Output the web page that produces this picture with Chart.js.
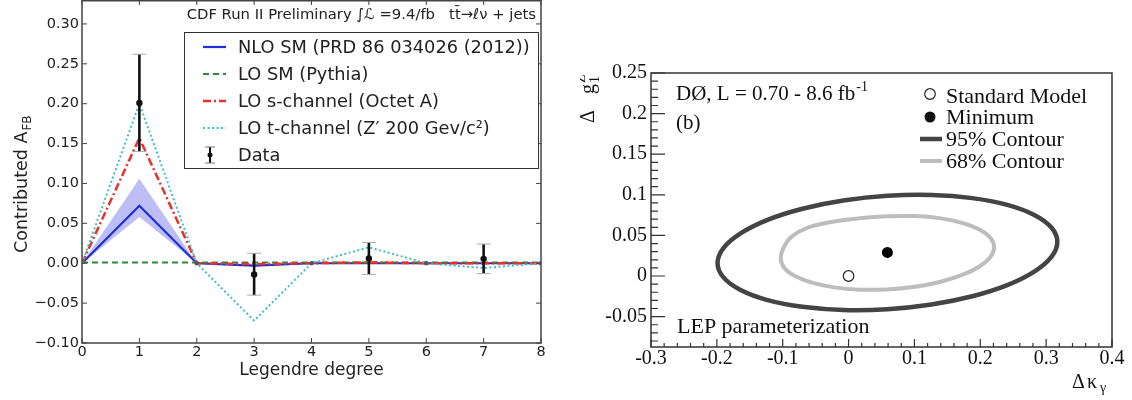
<!DOCTYPE html>
<html>
<head>
<meta charset="utf-8">
<script src="https://cdn.jsdelivr.net/npm/chart.js@4.4.0/dist/chart.umd.min.js"></script>
<style>
  body { margin: 0; background: #fff; width: 1132px; height: 400px; overflow: hidden; position: relative; }
  #left { position: absolute; left: 0; top: 0; }
  #right { position: absolute; left: 580px; top: 0; }
</style>
</head>
<body>
<canvas id="left" width="560" height="400"></canvas>
<canvas id="right" width="552" height="400"></canvas>
<script>
// ---- left panel: Legendre moments of A_FB ----
const degrees  = [0, 1, 2, 3, 4, 5, 6, 7, 8];
const nloSM    = [0, 0.072, 0, -0.003, 0, 0, 0, 0, 0];
const nloLow   = [0, 0.058, 0, -0.004, 0, 0, 0, 0, 0];
const nloHigh  = [0, 0.106, 0, -0.002, 0, 0, 0, 0, 0];
const loSM     = [0.001, 0.001, 0.001, 0.001, 0.001, 0.001, 0.001, 0.001, 0.001];
const sChannel = [0, 0.157, 0, -0.001, 0, 0.001, 0, 0, 0];
const tChannel = [0, 0.200, 0, -0.072, 0, 0.020, 0, -0.006, 0];
const dataDeg  = [1, 2, 3, 4, 5, 6, 7, 8];
const dataVal  = [0.201, 0, -0.014, 0, 0.006, 0, 0.0055, 0];
const dataHi   = [0.262, 0, 0.0125, 0, 0.026, 0, 0.024, 0];
const dataLo   = [0.140, 0, -0.040, 0, -0.014, 0, -0.013, 0];
const seriesNames = ['NLO SM (PRD 86 034026 (2012))', 'LO SM (Pythia)', 'LO s-channel (Octet A)',
                     'LO t-channel (Z\u2032 200 Gev/c\u00b2)', 'Data'];
const degreeTicks = [0, 1, 2, 3, 4, 5, 6, 7, 8];
const afbTicks = [-0.10, -0.05, 0, 0.05, 0.10, 0.15, 0.20, 0.25, 0.30];

// ---- right panel: D0 coupling contours (traced, starting at the top) ----
const kappaTicks = [-0.3, -0.2, -0.1, 0, 0.1, 0.2, 0.3, 0.4];
const g1zTicks = [-0.05, 0, 0.05, 0.1, 0.15, 0.2, 0.25];
const c95Kappa = [0.059, -0.008, -0.070, -0.123, -0.164, -0.190, -0.199, -0.190, -0.164, -0.123, -0.070, -0.008,
                  0.059, 0.126, 0.188, 0.241, 0.282, 0.308, 0.317, 0.308, 0.282, 0.241, 0.188, 0.126, 0.059];
const c95G     = [0.0988, 0.0930, 0.0829, 0.0692, 0.0526, 0.0345, 0.016, -0.0017, -0.0172, -0.0296, -0.0379, -0.0418,
                  -0.0408, -0.035, -0.0249, -0.0112, 0.0054, 0.0235, 0.042, 0.0597, 0.0752, 0.0876, 0.0959, 0.0998, 0.0988];
const c68Kappa = [0.059, 0.017, -0.026, -0.064, -0.087, -0.099, -0.103, -0.0975, -0.0813, -0.0555, -0.022, 0.017,
                  0.059, 0.101, 0.140, 0.1735, 0.1993, 0.2155, 0.221, 0.2155, 0.1993, 0.1735, 0.140, 0.101, 0.059];
const c68G     = [0.0735, 0.0712, 0.0665, 0.059, 0.048, 0.0345, 0.0215, 0.010, -0.0001, -0.0082, -0.014, -0.0168,
                  -0.0165, -0.0132, -0.007, 0.0016, 0.0121, 0.0236, 0.0355, 0.047, 0.0571, 0.0652, 0.071, 0.0738, 0.0735];
const smKappa = [0], smG = [0];
const minKappa = [0.059], minG = [0.029];
const rightLegend = ['Standard Model', 'Minimum', '95% Contour', '68% Contour'];

const pts = (xs, ys) => xs.map((x, i) => ({x: x, y: ys[i]}));

const BLUE = '#1c2fd6', GREEN = '#2a8a3a', RED = '#e8302c', CYAN = '#3fbfbf';
const SANS = 'DejaVu Sans', SERIF = 'Liberation Serif';

// matplotlib-like decorations: frame, inward ticks, error bars, legend, labels
const mplDecor = {
  id: 'mplDecor',
  afterDatasetsDraw(chart) {
    const ctx = chart.ctx, xs = chart.scales.x, ys = chart.scales.y;
    ctx.save();
    for (let i = 0; i < dataDeg.length; i++) {
      if (dataHi[i] === dataLo[i]) continue;
      const x = xs.getPixelForValue(dataDeg[i]);
      const y1 = ys.getPixelForValue(dataHi[i]), y2 = ys.getPixelForValue(dataLo[i]);
      ctx.strokeStyle = '#111'; ctx.lineWidth = 2.6;
      ctx.beginPath(); ctx.moveTo(x, y1); ctx.lineTo(x, y2); ctx.stroke();
      ctx.strokeStyle = '#aaa'; ctx.lineWidth = 1;
      ctx.beginPath();
      ctx.moveTo(x - 7, y1); ctx.lineTo(x + 7, y1);
      ctx.moveTo(x - 7, y2); ctx.lineTo(x + 7, y2);
      ctx.stroke();
    }
    ctx.restore();
  },
  afterDraw(chart) {
    const ctx = chart.ctx, a = chart.chartArea, xs = chart.scales.x, ys = chart.scales.y;
    ctx.save();
    ctx.strokeStyle = '#444'; ctx.lineWidth = 1.5;
    ctx.strokeRect(a.left, a.top + 0.75, a.right - a.left, a.bottom - a.top - 0.75);
    ctx.lineWidth = 1;
    ctx.beginPath();
    xs.ticks.forEach(t => {
      const x = xs.getPixelForValue(t.value);
      ctx.moveTo(x, a.bottom); ctx.lineTo(x, a.bottom - 5);
      ctx.moveTo(x, a.top); ctx.lineTo(x, a.top + 5);
    });
    ys.ticks.forEach(t => {
      const y = ys.getPixelForValue(t.value);
      ctx.moveTo(a.left, y); ctx.lineTo(a.left + 5, y);
      ctx.moveTo(a.right, y); ctx.lineTo(a.right - 5, y);
    });
    ctx.stroke();

    // legend
    ctx.fillStyle = '#fff';
    ctx.fillRect(184, 32, 355, 136);
    ctx.strokeStyle = '#333'; ctx.lineWidth = 1;
    ctx.strokeRect(184.5, 32.5, 354, 136);
    const rows = [
      {color: BLUE, dash: [], w: 2.2},
      {color: GREEN, dash: [6, 4], w: 2},
      {color: RED, dash: [8, 3, 2, 3], w: 2.5},
      {color: CYAN, dash: [2, 2.5], w: 2},
      null
    ];
    ctx.font = '17.8px "' + SANS + '"';
    ctx.textBaseline = 'middle';
    ctx.textAlign = 'left';
    seriesNames.forEach((name, i) => {
      const y = 47 + i * 27;
      const r = rows[i];
      if (r) {
        ctx.strokeStyle = r.color; ctx.lineWidth = r.w; ctx.setLineDash(r.dash);
        ctx.beginPath(); ctx.moveTo(203, y); ctx.lineTo(226, y); ctx.stroke();
        ctx.setLineDash([]);
      } else {
        ctx.strokeStyle = '#111'; ctx.lineWidth = 2;
        ctx.beginPath(); ctx.moveTo(210, y - 8); ctx.lineTo(210, y + 8); ctx.stroke();
        ctx.lineWidth = 1; ctx.strokeStyle = '#777';
        ctx.beginPath(); ctx.moveTo(205, y - 8); ctx.lineTo(215, y - 8);
        ctx.moveTo(205, y + 8); ctx.lineTo(215, y + 8); ctx.stroke();
        ctx.fillStyle = '#111';
        ctx.beginPath(); ctx.arc(210, y, 2.5, 0, Math.PI * 2); ctx.fill();
      }
      ctx.fillStyle = '#222';
      ctx.fillText(name, 238, y + 1);
    });

    // header
    ctx.font = '14.8px "' + SANS + '"';
    ctx.textAlign = 'right';
    ctx.fillText('CDF Run II Preliminary \u222b\u2112 =9.4/fb   tt\u0304\u2192\u2113\u03bd + jets', 536, 15);

    // axis titles
    ctx.textAlign = 'center';
    ctx.font = '17px "' + SANS + '"';
    ctx.fillText('Legendre degree', (a.left + a.right) / 2, 371);

    ctx.translate(27, 253);
    ctx.rotate(-Math.PI / 2);
    ctx.textAlign = 'left';
    ctx.textBaseline = 'alphabetic';
    ctx.font = '17.5px "' + SANS + '"';
    const main = 'Contributed A';
    ctx.fillText(main, 0, 0);
    const w = ctx.measureText(main).width;
    ctx.font = '12px "' + SANS + '"';
    ctx.fillText('FB', w + 1, 4);
    ctx.restore();
  }
};

new Chart(document.getElementById('left'), {
  type: 'line',
  data: {
    datasets: [
      {label: seriesNames[4], data: pts(dataDeg, dataVal), showLine: false,
       pointRadius: dataDeg.map(d => d % 2 ? 3.2 : 2.3),
       pointBackgroundColor: dataDeg.map(d => d % 2 ? '#111' : '#556'), pointBorderWidth: 0},
      {label: seriesNames[3], data: pts(degrees, tChannel), borderColor: CYAN, borderWidth: 2,
       borderDash: [2, 2.5], pointRadius: 0},
      {label: seriesNames[2], data: pts(degrees, sChannel), borderColor: RED, borderWidth: 2.5,
       borderDash: [8, 3, 2, 3], pointRadius: 0},
      {label: seriesNames[1], data: pts(degrees, loSM), borderColor: GREEN, borderWidth: 2,
       borderDash: [6, 4], pointRadius: 0},
      {label: seriesNames[0], data: pts(degrees, nloSM), borderColor: BLUE, borderWidth: 2.2, pointRadius: 0},
      {label: 'NLO band high', data: pts(degrees, nloHigh), borderWidth: 0, pointRadius: 0,
       fill: '+1', backgroundColor: 'rgba(110,110,235,0.45)'},
      {label: 'NLO band low', data: pts(degrees, nloLow), borderWidth: 0, pointRadius: 0, fill: false}
    ]
  },
  options: {
    responsive: false,
    animation: false,
    layout: {autoPadding: false, padding: {top: 0, right: 19, left: 0, bottom: 0}},
    plugins: {legend: {display: false}, tooltip: {enabled: false}},
    scales: {
      x: {
        type: 'linear', min: 0, max: 8,
        afterBuildTicks: s => { s.ticks = degreeTicks.map(v => ({value: v})); },
        afterFit: s => { s.height = 57; },
        grid: {display: false, drawTicks: false},
        border: {display: false},
        ticks: {padding: 1, color: '#222', autoSkip: false, maxRotation: 0,
                font: {family: SANS, size: 14.5}}
      },
      y: {
        min: -0.10, max: 0.33,
        afterBuildTicks: s => { s.ticks = afbTicks.map(v => ({value: v})); },
        afterFit: s => { s.width = 82; s.paddingTop = 0; s.paddingBottom = 0; },
        grid: {display: false, drawTicks: false},
        border: {display: false},
        ticks: {padding: 3, color: '#222', font: {family: SANS, size: 14.5},
                callback: v => v.toFixed(2).replace('-', '\u2212')}
      }
    }
  },
  plugins: [mplDecor]
});

// closed spline for the contours: wrap neighbours round the loop
function splineCP(p0, p1, p2, t) {
  const d01 = Math.hypot(p1.x - p0.x, p1.y - p0.y);
  const d12 = Math.hypot(p2.x - p1.x, p2.y - p1.y);
  const sum = d01 + d12 || 1;
  const fa = t * d01 / sum, fb = t * d12 / sum;
  return {
    px: p1.x - fa * (p2.x - p0.x), py: p1.y - fa * (p2.y - p0.y),
    nx: p1.x + fb * (p2.x - p0.x), ny: p1.y + fb * (p2.y - p0.y)
  };
}

const OX = 580; // page offset of the right canvas

// ROOT-like decorations: frame, inward major/minor ticks, text, legend
const rootDecor = {
  id: 'rootDecor',
  beforeDatasetsDraw(chart) {
    chart.data.datasets.forEach((ds, di) => {
      if (!ds.closed) return;
      const meta = chart.getDatasetMeta(di);
      const p = meta.data, n = p.length - 1;
      for (let i = 0; i <= n; i++) {
        const c = splineCP(p[(i - 1 + n) % n], p[i % n], p[(i + 1) % n], ds.tension);
        p[i].cp1x = c.px; p[i].cp1y = c.py; p[i].cp2x = c.nx; p[i].cp2y = c.ny;
      }
      meta.dataset._pointsUpdated = true;
      meta.dataset._path = undefined;
    });
  },
  afterDraw(chart) {
    const ctx = chart.ctx, a = chart.chartArea, xs = chart.scales.x, ys = chart.scales.y;
    ctx.save();
    ctx.strokeStyle = '#333'; ctx.lineWidth = 1.5;
    ctx.strokeRect(a.left, a.top, a.right - a.left, a.bottom - a.top);
    ctx.lineWidth = 1.2;
    ctx.beginPath();
    for (let k = -30; k <= 40; k += 2) {
      const x = xs.getPixelForValue(k / 100);
      const len = k % 10 === 0 ? 8 : 4;
      ctx.moveTo(x, a.bottom); ctx.lineTo(x, a.bottom - len);
    }
    for (let k = -8; k <= 25; k++) {
      const y = ys.getPixelForValue(k / 100);
      const len = k % 5 === 0 ? 14 : 7;
      ctx.moveTo(a.left, y); ctx.lineTo(a.left + len, y);
    }
    ctx.stroke();

    ctx.fillStyle = '#111';
    ctx.textAlign = 'left';
    ctx.textBaseline = 'alphabetic';
    ctx.font = '21px "' + SERIF + '"';
    const lum = 'D\u00d8, L = 0.70 - 8.6 fb';
    ctx.fillText(lum, 676 - OX, 100);
    const lw = ctx.measureText(lum).width;
    ctx.font = '14px "' + SERIF + '"';
    ctx.fillText('-1', 676 - OX + lw + 1, 91);
    ctx.font = '21px "' + SERIF + '"';
    ctx.fillText('(b)', 676 - OX, 129);
    ctx.font = '22px "' + SERIF + '"';
    ctx.fillText('LEP parameterization', 677 - OX, 333);

    // legend
    ctx.font = '22px "' + SERIF + '"';
    const ly = [103, 124, 146, 168];
    rightLegend.forEach((t, i) => ctx.fillText(t, 946 - OX, ly[i]));
    ctx.lineWidth = 1.2; ctx.strokeStyle = '#222';
    ctx.beginPath(); ctx.arc(930 - OX, 94, 5.3, 0, Math.PI * 2); ctx.stroke();
    ctx.beginPath(); ctx.arc(930 - OX, 117, 5.5, 0, Math.PI * 2); ctx.fill();
    ctx.lineWidth = 4.5; ctx.strokeStyle = '#444';
    ctx.beginPath(); ctx.moveTo(920 - OX, 139); ctx.lineTo(942 - OX, 139); ctx.stroke();
    ctx.lineWidth = 4; ctx.strokeStyle = '#bdbdbd';
    ctx.beginPath(); ctx.moveTo(920 - OX, 161); ctx.lineTo(942 - OX, 161); ctx.stroke();

    // axis titles
    ctx.fillStyle = '#111';
    ctx.font = '20px "' + SERIF + '"';
    ctx.fillText('\u0394', 1072 - OX, 388);
    ctx.fillText('\u03ba', 1087 - OX, 388);
    ctx.font = '14px "' + SERIF + '"';
    ctx.fillText('\u03b3', 1100 - OX, 392);

    ctx.translate(594 - OX, 123);
    ctx.rotate(-Math.PI / 2);
    ctx.font = '20px "' + SERIF + '"';
    ctx.fillText('\u0394', 0, 0);
    ctx.fillText('g', 29, 0);
    ctx.font = '14px "' + SERIF + '"';
    ctx.fillText('1', 40, 5);
    ctx.fillText('Z', 40, -9);
    ctx.restore();
  }
};

new Chart(document.getElementById('right'), {
  type: 'scatter',
  data: {
    datasets: [
      {label: rightLegend[1], data: pts(minKappa, minG), pointRadius: 5.5,
       pointBackgroundColor: '#000', pointBorderColor: '#000', pointBorderWidth: 0},
      {label: rightLegend[0], data: pts(smKappa, smG), pointRadius: 5.3,
       pointBackgroundColor: '#fff', pointBorderColor: '#222', pointBorderWidth: 1.2},
      {label: rightLegend[3], data: pts(c68Kappa, c68G), showLine: true, tension: 0.4, closed: true,
       borderColor: '#bdbdbd', borderWidth: 4, pointRadius: 0},
      {label: rightLegend[2], data: pts(c95Kappa, c95G), showLine: true, tension: 0.4, closed: true,
       borderColor: '#444', borderWidth: 4.5, pointRadius: 0}
    ]
  },
  options: {
    responsive: false,
    animation: false,
    layout: {autoPadding: false, padding: {top: 73, right: 20, left: 0, bottom: 0}},
    plugins: {legend: {display: false}, tooltip: {enabled: false}},
    scales: {
      x: {
        type: 'linear', min: -0.3, max: 0.4,
        afterBuildTicks: s => { s.ticks = kappaTicks.map(v => ({value: v})); },
        afterFit: s => { s.height = 53; },
        grid: {display: false, drawTicks: false},
        border: {display: false},
        ticks: {padding: 0, color: '#111', autoSkip: false, maxRotation: 0,
                font: {family: SERIF, size: 20},
                callback: v => String(Math.round(v * 100) / 100)}
      },
      y: {
        min: -0.0874, max: 0.25,
        afterBuildTicks: s => { s.ticks = g1zTicks.map(v => ({value: v})); },
        afterFit: s => { s.width = 71; },
        grid: {display: false, drawTicks: false},
        border: {display: false},
        ticks: {padding: 4, color: '#111', font: {family: SERIF, size: 20},
                callback: v => String(Math.round(v * 100) / 100)}
      }
    }
  },
  plugins: [rootDecor]
});
</script>
</body>
</html>
